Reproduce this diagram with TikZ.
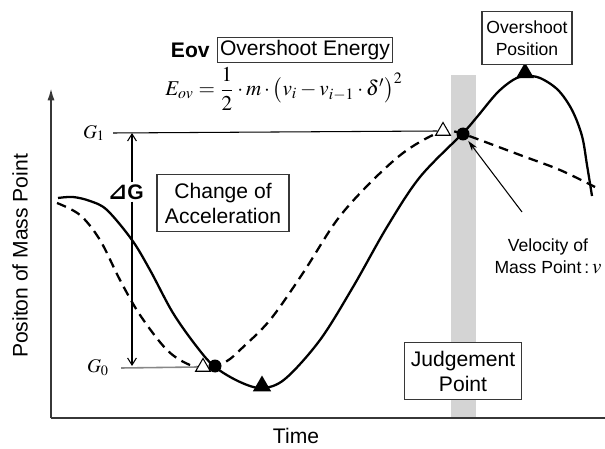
\documentclass[tikz,border=0pt]{standalone}
\usepackage{amsmath,amssymb}
\usepackage{mathptmx}
\usepackage[no-math]{fontspec}
\setmainfont{Liberation Sans}
\newfontfamily\symbolfont{DejaVu Sans}
\usepackage{xcolor}
\usepackage{tikz}
\usetikzlibrary{arrows.meta,positioning,shapes.geometric,calc}
\definecolor{bandgray}{RGB}{212,212,212}
\definecolor{linegray}{RGB}{55,55,55}
\definecolor{guidegray}{RGB}{135,135,135}
\tikzset{
  labelbox/.style={
    rectangle,
    draw=linegray,
    line width=0.6pt,
    fill=white,
    align=center,
    inner sep=1pt,
    font=\fontsize{12}{14.2}\selectfont
  },
  smallbox/.style={
    labelbox,
    font=\fontsize{10}{12.4}\selectfont
  },
  plaintext/.style={
    align=center,
    inner sep=1pt,
    font=\fontsize{12}{14.2}\selectfont
  },
  dotmark/.style={circle, fill=black, inner sep=0pt, minimum size=0.26cm},
  opentri/.style={
    regular polygon, regular polygon sides=3,
    draw=black, fill=white, line width=0.6pt,
    inner sep=0pt, minimum size=0.34cm
  },
  filltri/.style={
    regular polygon, regular polygon sides=3,
    fill=black, inner sep=0pt, minimum size=0.42cm
  },
  solidcurve/.style={line width=1.3pt, black},
  dashcurve/.style={line width=1.3pt, black, dash pattern=on 5.5pt off 3.5pt},
  axisline/.style={line width=1.1pt, linegray},
  guide/.style={line width=0.6pt, black},
  flow/.style={-{Straight Barb[length=4pt,width=5pt]}, line width=0.6pt},
  pointer/.style={-{Stealth[length=6pt,width=3.5pt]}, line width=0.6pt, shorten >=1pt}
}

\begin{document}
\begin{tikzpicture}[x=0.02cm, y=-0.02cm]
\useasboundingbox (0,0) rectangle (605,449);
\fill[bandgray] (451,75) rectangle (476,418);
\coordinate (orig) at (51,418);
\coordinate (ytip) at (51,88);
\coordinate (xend) at (605,418);
\draw[axisline, -{Latex[length=7pt,width=4pt]}] (orig) -- (ytip);
\draw[axisline] (orig) -- (xend);
\node[plaintext, rotate=90] (ylab) at (20,256) {Positon of Mass Point};
\node[plaintext] (xlab) at (296,436) {Time};
\draw[dashcurve] plot[smooth, tension=0.55] coordinates {
  (57,203) (80,215) (100,240) (120,280) (140,315) (167,350) (190,365) (210,368)
  (227,361) (240,350) (270,320) (303,273) (337,220) (370,183) (403,153)
  (433,135) (450,131) (463,134) (480,140) (520,155) (560,170) (595,187)};
\draw[solidcurve] plot[smooth, tension=0.55] coordinates {
  (58,198) (73,197) (90,201) (107,210) (132,240) (150,270) (173,313) (197,347)
  (215,367) (240,382) (262,388) (285,379) (320,340) (353,287) (387,227)
  (420,177) (463,133) (477,117) (497,93) (513,80) (525,76) (540,78) (558,90)
  (572,110) (582,136) (587,165) (592,196)};
\node[plaintext] (g1) at (94,133) {\fontsize{11}{13}\selectfont$G_1$};
\node[plaintext] (g0) at (98,368) {\fontsize{11}{13}\selectfont$G_0$};
\node[opentri] (t1) at (443,131) {};
\node[opentri] (t0) at (203,367) {};
\node[dotmark] (c1) at (463,134) {};
\node[dotmark] (c0) at (215,366) {};
\node[filltri] (m0) at (262,386) {};
\node[filltri] (m1) at (525,73) {};
\draw[guide] (g1.east) ++(6,0) -- (t1.west |- t1.center);
\draw[guide, guidegray, line width=0.9pt] (g0.east) ++(10,0) -- (t0.west |- t0.center);
\coordinate (gtop) at (132,133);
\coordinate (gbot) at (132,366);
\node[plaintext, font=\fontsize{12}{14.2}\selectfont\bfseries] (dg) at (126,192) {{\symbolfont\fontsize{13}{14}\selectfont ⊿}G};
\draw[flow] (dg.north -| gtop) -- (gtop);
\draw[flow] (dg.south -| gtop) -- (gbot);
\node[labelbox, minimum width=3.5cm, minimum height=0.5cm] (energy) at (305,50) {Overshoot Energy};
\node[plaintext, font=\fontsize{12}{14.2}\selectfont\bfseries, left=3pt of energy] (eov) {Eov};
\node[plaintext, font=\fontsize{12}{14.4}\selectfont, anchor=north, inner sep=0pt] (formula) at (284,67)
  {$\medmuskip=2.5mu\thickmuskip=4mu\displaystyle E_{ov}=\frac{1}{2}\cdot m\cdot\bigl(v_i-v_{i-1}\cdot\delta'\bigr)^2$};
\node[labelbox, minimum width=2.64cm, minimum height=1.14cm] (accel) at (223,203) {Change of\\Acceleration};
\node[labelbox, minimum width=2.34cm, minimum height=1.14cm] (judge) at (463,371) {Judgement\\Point};
\node[smallbox, minimum width=1.8cm, minimum height=1.06cm] (ospos) at (527,38) {Overshoot\\Position};
\node[plaintext, font=\fontsize{10}{12.4}\selectfont] (vel) at (548,256) {Velocity of\\Mass Point\,:\,{\fontsize{12}{12}\selectfont$v$}};
\coordinate (vtail) at (522,212);
\draw[pointer] (vtail) -- (c1);
\end{tikzpicture}
\end{document}
